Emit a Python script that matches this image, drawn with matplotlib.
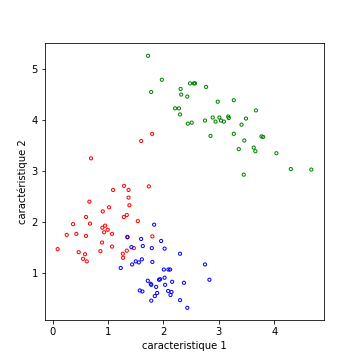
import numpy as np
from matplotlib import pyplot as plt

# classe rouge
x_rouge = [1.796, 1.597, 0.693, 1.090, 1.289, 1.37, 1.736, 1.37, 1.385, 0.662,
           1.018, 0.904, 1.284, 1.338, 0.602, 1.537, 0.367, 0.674, 0.897, 0.946,
           0.994, 0.928, 1.072, 0.253, 0.427, 0.602, 1.35, 1.80, 0.891, 1.072,
           0.090, 0.470, 0.861, 0.584, 0.548, 0.615, 1.266, 1.271, 1.338, 1.465]
y_rouge = [3.73, 3.59, 3.25, 2.63, 2.71, 2.63, 2.70, 2.48, 2.33, 2.40,
           2.29, 2.21, 2.10, 2.14, 2.10, 2.02, 1.96, 1.97, 1.89, 1.93,
           1.85, 1.80, 1.77, 1.75, 1.77, 1.73, 1.70, 1.72, 1.60, 1.52,
           1.47, 1.41, 1.43, 1.37, 1.28, 1.23, 1.38, 1.30, 1.44, 1.49]

# classe bleue
x_bleu = [1.832, 1.349, 1.597, 1.958, 1.421, 1.627, 1.79, 2.02, 2.30, 1.434,
          1.50, 1.555, 1.61, 1.80, 1.229, 2.007, 2.09, 2.12, 1.717, 1.77,
          1.78, 1.92, 2.02, 1.868, 2.157, 2.03, 2.37, 1.573, 1.62, 1.886,
          1.844, 2.085, 2.145, 2.127, 1.78, 2.30, 2.43, 2.75, 2.83, 1.94]
y_bleu = [1.95, 1.71, 1.67, 1.63, 1.51, 1.53, 1.49, 1.48, 1.38, 1.17,
          1.23, 1.21, 1.27, 1.22, 1.10, 1.07, 1.07, 1.07, 0.85, 0.79,
          0.77, 0.87, 0.91, 0.73, 0.83, 0.77, 0.81, 0.66, 0.64, 0.61,
          0.55, 0.65, 0.63, 0.57, 0.46, 0.47, 0.32, 1.17, 0.87, 0.88]

# classe verte
x_vert = [1.723, 1.971, 1.778, 2.31, 2.32, 2.43, 2.48, 2.55, 2.57, 2.21,
          2.28, 2.30, 2.44, 2.51, 2.77, 2.98, 3.27, 3.67, 2.75, 2.89,
          2.94, 3.01, 3.04, 3.09, 3.17, 3.18, 3.49, 3.41, 2.85, 3.27,
          3.46, 3.77, 3.80, 3.36, 3.63, 3.66, 4.04, 4.30, 4.67, 3.45]
y_vert = [5.26, 4.79, 4.55, 4.61, 4.50, 4.46, 4.72, 4.72, 4.72, 4.23,
          4.23, 4.11, 3.93, 3.95, 4.65, 4.36, 4.39, 4.19, 3.99, 4.05,
          3.97, 4.05, 3.99, 3.97, 4.07, 4.04, 4.03, 3.91, 3.69, 3.73,
          3.60, 3.68, 3.67, 3.43, 3.46, 3.39, 3.35, 3.04, 3.03, 2.93]

fig = plt.figure(figsize=(5, 5), dpi=72)
plt.scatter(x_rouge, y_rouge, s=10, facecolors='none', edgecolors='r', linewidths=1)
plt.scatter(x_bleu, y_bleu, s=10, facecolors='none', edgecolors='b', linewidths=1)
plt.scatter(x_vert, y_vert, s=10, facecolors='none', edgecolors='g', linewidths=1)
plt.xlabel('caracteristique 1')
plt.ylabel('caractéristique 2')
plt.savefig('out.png')
